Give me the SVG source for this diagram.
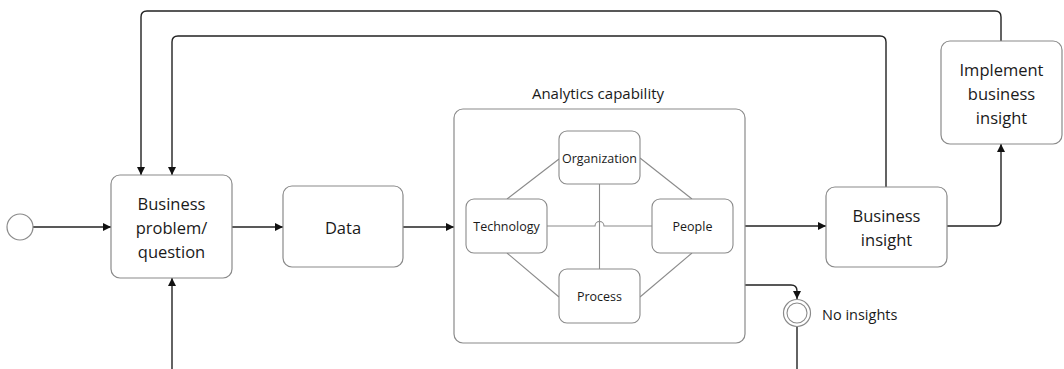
<svg xmlns="http://www.w3.org/2000/svg" width="1064" height="369" viewBox="0 0 1064 369">
  <defs>
    <marker id="arrow" viewBox="0 0 10 10" refX="10" refY="5" markerWidth="8" markerHeight="8" markerUnits="userSpaceOnUse" orient="auto">
      <path d="M0,0 L10,5 L0,10 Z" fill="#111"/>
    </marker>
  </defs>
  <style>
    .box { fill: #fff; stroke: #8a8a8a; stroke-width: 1.2; }
    .inner { fill: #fff; stroke: #8a8a8a; stroke-width: 1.1; }
    .flow { fill: none; stroke: #222; stroke-width: 1.4; }
    .link { fill: none; stroke: #8a8a8a; stroke-width: 1.1; }
    .lbl { font-family: "Open Sans", "Noto Sans", sans-serif; fill: #1a1a1a; text-anchor: middle; dominant-baseline: central; }
    .big { font-size: 16.5px; }
    .small { font-size: 12.5px; }
  </style>
  <rect width="1064" height="369" fill="#fff"/>

  <!-- sequence flows -->
  <g id="connectors">
    <path class="flow" d="M33,227 H111" marker-end="url(#arrow)"/>
    <path class="flow" d="M232,227 H283" marker-end="url(#arrow)"/>
    <path class="flow" d="M403,227 H454" marker-end="url(#arrow)"/>
    <path class="flow" d="M745,226 H826" marker-end="url(#arrow)"/>
    <path class="flow" d="M947,226 H995 Q1001,226 1001,220 V144" marker-end="url(#arrow)"/>
    <path class="flow" d="M1001,41 V17 Q1001,11 995,11 H147 Q141,11 141,17 V175" marker-end="url(#arrow)"/>
    <path class="flow" d="M886,187 V42 Q886,36 880,36 H178 Q172,36 172,42 V175" marker-end="url(#arrow)"/>
    <path class="flow" d="M745,285 H791 Q797,285 797,291 V299" marker-end="url(#arrow)"/>
    <path class="flow" d="M797,327 V369"/>
    <path class="flow" d="M172,369 V278" marker-end="url(#arrow)"/>
  </g>

  <!-- start event -->
  <g id="start">
    <circle cx="20" cy="227" r="13" fill="#fff" stroke="#8a8a8a" stroke-width="1.2"/>
  </g>

  <g id="business-problem">
    <rect class="box" x="111" y="175" width="121" height="103" rx="9"/>
    <text class="lbl big" x="171.5" y="203">Business</text>
    <text class="lbl big" x="171.5" y="227">problem/</text>
    <text class="lbl big" x="171.5" y="251">question</text>
  </g>

  <g id="data">
    <rect class="box" x="283" y="186" width="120" height="81" rx="9"/>
    <text class="lbl big" x="343" y="227">Data</text>
  </g>

  <g id="analytics-capability">
    <text class="lbl" x="598" y="93" font-size="15">Analytics capability</text>
    <rect class="box" x="454" y="109" width="291" height="234" rx="9"/>
    <!-- links between the four capability areas -->
    <g id="capability-links">
      <path class="link" d="M507,199 L559,159"/>
      <path class="link" d="M640,158 L692,199"/>
      <path class="link" d="M507,253 L559,297"/>
      <path class="link" d="M692,253 L640,297"/>
      <path class="link" d="M599.5,184 V269"/>
      <path class="link" d="M547,226 H595 A4.5,4.5 0 0 1 604,226 H652"/>
    </g>
    <g id="organization">
      <rect class="inner" x="559" y="131" width="81" height="53" rx="8"/>
      <text class="lbl small" x="599.5" y="158">Organization</text>
    </g>
    <g id="technology">
      <rect class="inner" x="466" y="199" width="81" height="54" rx="8"/>
      <text class="lbl small" x="506.5" y="226">Technology</text>
    </g>
    <g id="people">
      <rect class="inner" x="652" y="199" width="81" height="54" rx="8"/>
      <text class="lbl small" x="692.5" y="226">People</text>
    </g>
    <g id="process">
      <rect class="inner" x="559" y="269" width="81" height="54" rx="8"/>
      <text class="lbl small" x="599.5" y="296">Process</text>
    </g>
  </g>

  <g id="business-insight">
    <rect class="box" x="826" y="187" width="121" height="80" rx="9"/>
    <text class="lbl big" x="886.5" y="215">Business</text>
    <text class="lbl big" x="886.5" y="239">insight</text>
  </g>

  <g id="implement-insight">
    <rect class="box" x="941" y="41" width="121" height="103" rx="9"/>
    <text class="lbl big" x="1001.5" y="69">Implement</text>
    <text class="lbl big" x="1001.5" y="93">business</text>
    <text class="lbl big" x="1001.5" y="117">insight</text>
  </g>

  <!-- intermediate event -->
  <g id="no-insights">
    <circle cx="797" cy="313" r="13.5" fill="#fff" stroke="#8a8a8a" stroke-width="1.2"/>
    <circle cx="797" cy="313" r="10" fill="none" stroke="#8a8a8a" stroke-width="1.1"/>
    <text class="lbl" x="822" y="314" font-size="14.5" style="text-anchor:start">No insights</text>
  </g>
</svg>
